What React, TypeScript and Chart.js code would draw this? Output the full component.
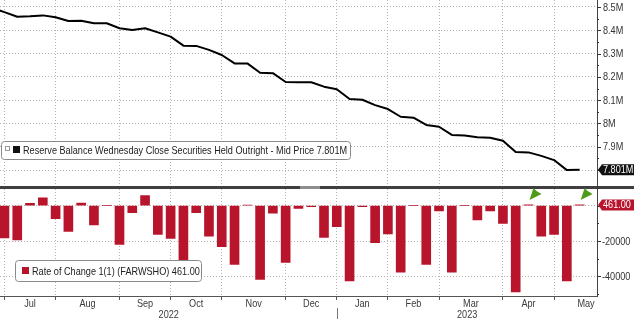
import React, { useEffect, useRef } from 'react';
import { Chart, registerables } from 'chart.js';

Chart.register(...registerables);

const FONT = "'Liberation Sans', Arial, sans-serif";
const SQUEEZE = 0.83;

// week index (0 = first week of July 2022)
const weeks = [-1, 0, 1, 2, 3, 4, 5, 6, 7, 8, 9, 10, 11, 12, 13, 14, 15, 16, 17, 18, 19, 20, 21, 22, 23,
  24, 25, 26, 27, 28, 29, 30, 31, 32, 33, 34, 35, 36, 37, 38, 39, 40, 41, 42, 43, 44, 45];

// Reserve Balance Wednesday Close Securities Held Outright (shown as "M")
const securitiesHeld = [8.496, 8.478, 8.458, 8.460, 8.464, 8.456, 8.440, 8.441, 8.430, 8.430, 8.409, 8.401,
  8.409, 8.391, 8.373, 8.334, 8.333, 8.316, 8.294, 8.258, 8.258, 8.218, 8.216, 8.178, 8.177, 8.177,
  8.158, 8.147, 8.105, 8.102, 8.079, 8.062, 8.029, 8.025, 7.994, 7.986, 7.951, 7.948, 7.941, 7.939,
  7.926, 7.878, 7.876, 7.861, 7.843, 7.800, 7.801];

// Rate of Change 1(1) (FARWSHO), weeks 0..45
const weeklyChange = [-18300, -19400, 1300, 4500, -7400, -14500, 1500, -10900, 0, -21900,
  -4000, 5700, -16200, -18500, -30800, -4000, -17200, -23200, -33200, 300,
  -41700, -4300, -32100, -1500, -500, -17900, -11900, -42600, -500, -21000,
  -16000, -37700, 0, -33200, -3000, -37700, 0, -8100, -3000, -10000,
  -48900, 500, -17200, -16200, -42600, 461];

const monthBoundaries = [0, 4, 9, 13, 17, 22, 26, 30, 34, 39, 43];
const monthLabels = ['Jul', 'Aug', 'Sep', 'Oct', 'Nov', 'Dec', 'Jan', 'Feb', 'Mar', 'Apr', 'May'];
const monthCenters = [2, 6.5, 11, 15, 19.5, 24, 28, 32, 36.5, 41, 45.5];
const yearLabels = ['2022', '2023'];
const yearCenters = [12.85, 36.2];
const yearDivider = 26;

const priceTicks = [7.8, 7.9, 8.0, 8.1, 8.2, 8.3, 8.4, 8.5];
const priceLabels = ['', '7.9M', '8M', '8.1M', '8.2M', '8.3M', '8.4M', '8.5M'];
const changeTicks = [0, -20000, -40000];
const changeLabels = ['', '-20000', '-40000'];
const changeMinorTicks = [10000, -10000, -30000, -50000];

const lastPrice = 7.801;
const lastChange = 461;
const eventWeeks = [41, 45];

const legendTop = 'Reserve Balance Wednesday Close Securities Held Outright - Mid Price 7.801M';
const legendBottom = 'Rate of Change 1(1) (FARWSHO) 461.00';

const RED = '#b8152d';

function squeezedText(ctx: CanvasRenderingContext2D, s: string, x: number, y: number, align: CanvasTextAlign, color: string) {
  ctx.save();
  ctx.translate(x, y);
  ctx.scale(SQUEEZE, 1);
  ctx.font = `11px ${FONT}`;
  ctx.textAlign = align;
  ctx.textBaseline = 'middle';
  ctx.fillStyle = color;
  ctx.fillText(s, 0, 0);
  ctx.restore();
}

const bbgPlugin = {
  id: 'bbg',
  afterDraw(chart: any) {
    const { ctx, scales, chartArea } = chart;
    const x = scales.x, y = scales.y, y2 = scales.y2;
    const W = chart.width;
    const axisX = chartArea.right;
    ctx.save();

    // panel separator
    const sepY = Math.round(y2.top);
    ctx.fillStyle = '#3f3f3f';
    ctx.fillRect(0, sepY - 1, W, 3);
    ctx.fillStyle = '#8d8d8d';
    ctx.fillRect(300, sepY - 1, 20, 3);

    // right axis tick marks and labels
    ctx.strokeStyle = '#333';
    ctx.lineWidth = 1;
    const mark = (py: number, len: number) => {
      const yy = Math.round(py) + 0.5;
      ctx.beginPath();
      ctx.moveTo(axisX, yy);
      ctx.lineTo(axisX + len, yy);
      ctx.stroke();
    };
    priceTicks.forEach((v, i) => {
      const py = y.getPixelForValue(v);
      mark(py, 4);
      const h = v + 0.05;
      if (h < y.max) mark(y.getPixelForValue(h), 2);
      if (priceLabels[i]) squeezedText(ctx, priceLabels[i], axisX + 6, py + 0.5, 'left', '#333');
    });
    changeTicks.forEach((v, i) => {
      const py = y2.getPixelForValue(v);
      mark(py, 4);
      if (changeLabels[i]) squeezedText(ctx, changeLabels[i], axisX + 5, py + 0.5, 'left', '#333');
    });
    changeMinorTicks.forEach((v) => {
      if (v < y2.max && v > y2.min) mark(y2.getPixelForValue(v), 2);
    });

    // last value tags
    const tag = (py: number, text: string, fill: string) => {
      const h = 11;
      const x0 = axisX + 1;
      ctx.beginPath();
      ctx.moveTo(x0, py);
      ctx.lineTo(x0 + 4, py - h / 2);
      ctx.lineTo(W, py - h / 2);
      ctx.lineTo(W, py + h / 2);
      ctx.lineTo(x0 + 4, py + h / 2);
      ctx.closePath();
      ctx.fillStyle = fill;
      ctx.fill();
      squeezedText(ctx, text, x0 + 5, py + 0.5, 'left', '#fff');
    };
    tag(y.getPixelForValue(lastPrice), `${lastPrice.toFixed(3)}M`, '#111');
    tag(y2.getPixelForValue(lastChange), lastChange.toFixed(2), RED);

    // event arrows
    ctx.fillStyle = '#4f9a18';
    eventWeeks.forEach((w) => {
      const cx = x.getPixelForValue(w);
      ctx.beginPath();
      ctx.moveTo(cx + 1, sepY + 13);
      ctx.lineTo(cx + 5, sepY + 1);
      ctx.lineTo(cx + 8, sepY + 4);
      ctx.lineTo(cx + 13, sepY + 7);
      ctx.closePath();
      ctx.fill();
    });

    // legends
    ctx.lineWidth = 1;
    ctx.strokeStyle = '#8a8a8a';
    ctx.fillStyle = '#fff';
    ctx.beginPath();
    ctx.roundRect(1.5, 141.5, 349, 18, 3);
    ctx.fill();
    ctx.stroke();
    ctx.strokeStyle = '#999';
    ctx.strokeRect(5.5, 146.5, 4, 4);
    ctx.fillStyle = '#111';
    ctx.fillRect(13, 146, 7, 7);
    squeezedText(ctx, legendTop, 23, 150.5, 'left', '#222');

    ctx.strokeStyle = '#8a8a8a';
    ctx.fillStyle = '#fff';
    ctx.beginPath();
    ctx.roundRect(15.5, 260.5, 186, 21, 3);
    ctx.fill();
    ctx.stroke();
    ctx.fillStyle = RED;
    ctx.fillRect(22, 267, 7, 7);
    squeezedText(ctx, legendBottom, 32, 271.5, 'left', '#222');

    // month & year labels
    monthLabels.forEach((m, i) => {
      squeezedText(ctx, m, x.getPixelForValue(monthCenters[i]), 303.5, 'center', '#3a3a3a');
    });
    yearLabels.forEach((t, i) => {
      squeezedText(ctx, t, x.getPixelForValue(yearCenters[i]), 314.5, 'center', '#3a3a3a');
    });
    const dx = Math.round(x.getPixelForValue(yearDivider)) + 0.5;
    ctx.strokeStyle = '#777';
    ctx.beginPath();
    ctx.moveTo(dx, 308);
    ctx.lineTo(dx, 319);
    ctx.stroke();

    ctx.restore();
  },
};

export default function App() {
  const ref = useRef<HTMLCanvasElement | null>(null);

  useEffect(() => {
    if (!ref.current) return;
    const grid = {
      color: '#b4b4b4',
      lineWidth: 1,
      drawTicks: false,
    };
    const chart = new Chart(ref.current, {
      type: 'bar',
      data: {
        datasets: [
          {
            type: 'line',
            data: weeks.map((w, i) => ({ x: w, y: securitiesHeld[i] })),
            xAxisID: 'x',
            yAxisID: 'y',
            borderColor: '#000',
            borderWidth: 2,
            pointRadius: 0,
            tension: 0,
            borderJoinStyle: 'round',
          } as any,
          {
            type: 'bar',
            data: weeklyChange.map((v, i) => ({ x: weeks[i + 1], y: v })),
            xAxisID: 'x',
            yAxisID: 'y2',
            backgroundColor: RED,
            borderWidth: 0,
            barThickness: 9,
          } as any,
        ],
      },
      options: {
        animation: false,
        responsive: false,
        maintainAspectRatio: false,
        layout: { padding: 0, autoPadding: false } as any,
        plugins: { legend: { display: false }, tooltip: { enabled: false } },
        scales: {
          x: {
            type: 'linear',
            position: 'bottom',
            offset: false,
            min: -0.35,
            max: 46.36,
            bounds: 'data',
            afterBuildTicks: (s: any) => {
              s.ticks = monthBoundaries.map((v) => ({ value: v }));
            },
            afterFit: (s: any) => {
              s.height = 28;
              s.paddingLeft = 0;
              s.paddingRight = 0;
            },
            ticks: { display: false },
            grid: {
              color: '#b4b4b4',
              offset: false,
              drawTicks: true,
              tickLength: 4,
              tickColor: '#555',
              tickBorderDash: [],
            },
            border: { display: true, color: '#555', width: 1, dash: [1, 2] },
          },
          y: {
            type: 'linear',
            position: 'right',
            stack: 'panels',
            stackWeight: 186.5,
            min: 7.7296,
            max: 8.530,
            bounds: 'data',
            afterBuildTicks: (s: any) => {
              s.ticks = priceTicks.map((v) => ({ value: v }));
            },
            afterFit: (s: any) => {
              s.width = 37;
              s.paddingTop = 0;
              s.paddingBottom = 0;
            },
            ticks: { display: false },
            grid,
            border: { display: true, color: '#444', width: 1, dash: [1, 2] },
          },
          y2: {
            type: 'linear',
            position: 'right',
            stack: 'panels',
            stackWeight: 109.5,
            min: -51160,
            max: 10880,
            bounds: 'data',
            afterBuildTicks: (s: any) => {
              s.ticks = changeTicks.map((v) => ({ value: v }));
            },
            afterFit: (s: any) => {
              s.width = 37;
              s.paddingTop = 0;
              s.paddingBottom = 0;
            },
            ticks: { display: false },
            grid,
            border: { display: true, color: '#444', width: 1, dash: [1, 2] },
          },
        },
      } as any,
      plugins: [bbgPlugin],
    });
    return () => chart.destroy();
  }, []);

  return (
    <div style={{ position: 'fixed', left: 0, top: 0, width: 634, height: 324, background: '#fff' }}>
      <canvas ref={ref} width={634} height={324} style={{ width: 634, height: 324, display: 'block' }} />
    </div>
  );
}
